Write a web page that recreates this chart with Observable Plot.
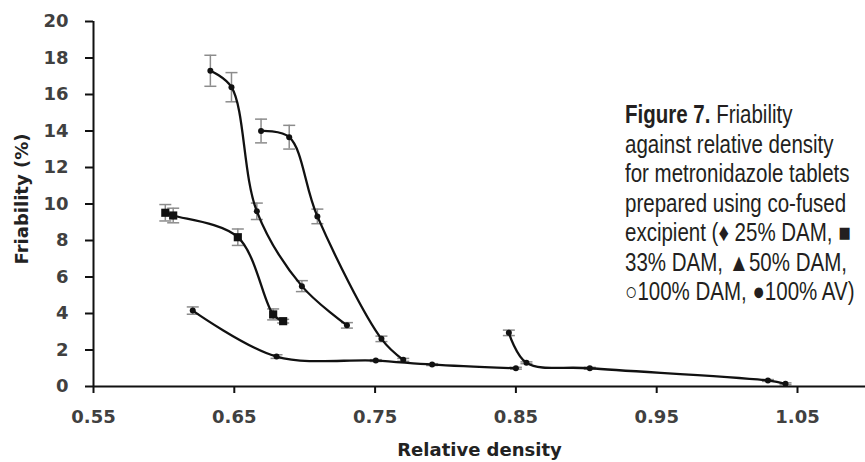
<!DOCTYPE html>
<html><head><meta charset="utf-8">
<script src="https://cdn.jsdelivr.net/npm/d3@7"></script>
<script src="https://cdn.jsdelivr.net/npm/@observablehq/plot@0.6"></script>
<style>
body{margin:0;background:#fff;overflow:hidden}
#wrap{position:relative;width:865px;height:462px;overflow:hidden}
#cap{position:absolute;left:625px;top:100px;font-family:"Liberation Sans",Arial,sans-serif;font-size:25px;line-height:29.5px;color:#231f20;white-space:nowrap;transform:scaleX(0.82);transform-origin:0 0}
#cap b{font-weight:bold}
</style></head><body>
<div id="wrap"><div id="cap"><b>Figure 7.</b> Friability<br>against relative density<br>for metronidazole tablets<br>prepared using co-fused<br>excipient (♦ 25% DAM, ■<br>33% DAM, ▲50% DAM,<br>○100% DAM, ●100% AV)</div></div>
<script>
// Axis ticks
const xTicks = [0.55, 0.65, 0.75, 0.85, 0.95, 1.05];
const yTicks = [0, 2, 4, 6, 8, 10, 12, 14, 16, 18, 20];

// Series
const density25 = [0.633, 0.648, 0.666, 0.698, 0.730];
const friab25   = [17.3, 16.4, 9.6, 5.5, 3.35];
const err25     = [0.85, 0.8, 0.45, 0.3, 0.15];

const density33 = [0.601, 0.6066, 0.6525, 0.6776, 0.6847];
const friab33   = [9.52, 9.37, 8.18, 3.95, 3.58];
const err33     = [0.45, 0.4, 0.45, 0.3, 0.1];

const density50 = [0.669, 0.689, 0.709, 0.7545, 0.770];
const friab50   = [14.0, 13.66, 9.32, 2.61, 1.46];
const err50     = [0.65, 0.65, 0.4, 0.15, 0.08];

const densityDAM100 = [0.6205, 0.680, 0.7505, 0.7905, 0.850];
const friabDAM100   = [4.16, 1.64, 1.42, 1.2, 1.0];
const errDAM100     = [0.2, 0.1, 0.05, 0.05, 0.05];

const densityAV100 = [0.845, 0.8575, 0.9025, 1.029, 1.0415];
const friabAV100   = [2.94, 1.3, 1.0, 0.33, 0.15];
const errAV100     = [0.15, 0.05, 0.05, 0.05, 0.05];

const seriesDefs = [
  ["25% DAM", density25, friab25, err25],
  ["33% DAM", density33, friab33, err33],
  ["50% DAM", density50, friab50, err50],
  ["100% DAM", densityDAM100, friabDAM100, errDAM100],
  ["100% AV", densityAV100, friabAV100, errAV100]
];
const rows = seriesDefs.flatMap(([s, xs, ys, es]) =>
  xs.map((x, i) => ({series: s, density: x, friability: ys[i], err: es[i]})));

const capSymbol = {draw(ctx) { ctx.moveTo(-6, 0); ctx.lineTo(6, 0); }};

const chart = Plot.plot({
  width: 865, height: 462,
  marginLeft: 93, marginRight: 0, marginTop: 21, marginBottom: 76,
  style: {fontFamily: "DejaVu Sans", fontWeight: "bold", fontSize: "18px", background: "#fff"},
  x: {domain: [0.55, 1.0983]},
  y: {domain: [0, 20]},
  marks: [
    Plot.ruleX(rows, {x: "density", y1: d => d.friability - d.err, y2: d => d.friability + d.err, stroke: "#8c8c8c", strokeWidth: 1.5}),
    Plot.dot(rows, {x: "density", y: d => d.friability + d.err, symbol: capSymbol, stroke: "#8c8c8c", strokeWidth: 1.5, fill: "none"}),
    Plot.dot(rows, {x: "density", y: d => d.friability - d.err, symbol: capSymbol, stroke: "#8c8c8c", strokeWidth: 1.5, fill: "none"}),
    Plot.line(rows, {x: "density", y: "friability", z: "series", curve: "catmull-rom", stroke: "#111", strokeWidth: 2.3}),
    Plot.dot(rows.filter(d => d.series !== "33% DAM"), {x: "density", y: "friability", r: 3, fill: "#111"}),
    Plot.dot(rows.filter(d => d.series === "33% DAM"), {x: "density", y: "friability", symbol: "square", r: 4.6, fill: "#111"}),
    Plot.axisY({ticks: yTicks, tickSize: 8, tickPadding: 17, stroke: "#111", strokeWidth: 2, fill: "#404040", label: null, tickFormat: d3.format("d")}),
    Plot.axisX({ticks: xTicks, tickSize: 7, tickPadding: 17, stroke: "#111", strokeWidth: 2, fill: "#404040", label: null, tickFormat: d3.format(".2f")}),
    Plot.ruleX([0.55], {y1: 0, y2: 20, stroke: "#111", strokeWidth: 2}),
    Plot.ruleY([0], {stroke: "#111", strokeWidth: 2}),
    Plot.text(["Friability (%)"], {frameAnchor: "left", dx: -71, dy: -5, rotate: -90, text: d => d, textAnchor: "middle", lineAnchor: "middle", fill: "#222", fontSize: 18}),
    Plot.text(["Relative density"], {frameAnchor: "bottom", dy: 64, text: d => d, textAnchor: "middle", lineAnchor: "middle", fill: "#222", fontSize: 18})
  ]
});
document.getElementById("wrap").prepend(chart);
chart.style.position = "absolute"; chart.style.left = "0"; chart.style.top = "0";
</script>
</body></html>
